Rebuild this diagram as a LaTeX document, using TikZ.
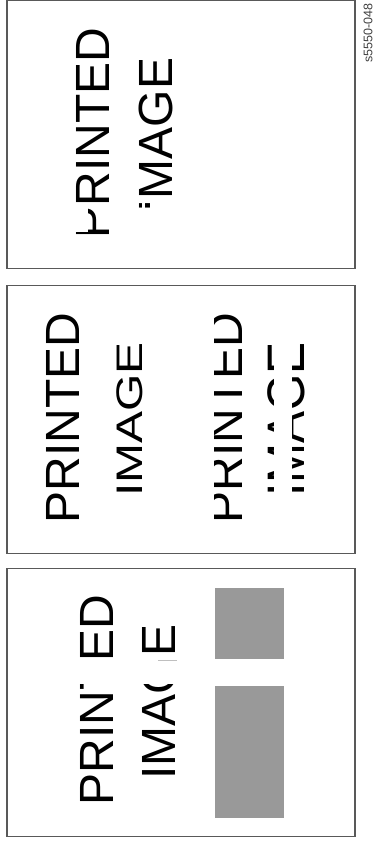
\documentclass[tikz,border=0pt]{standalone}
\usepackage{fontspec}
\setmainfont{Liberation Sans}
\begin{document}
\begin{tikzpicture}[x=1pt, y=-1pt,
  sheet/.style={draw=black!65, line width=1.1pt, minimum width=348pt, minimum height=268pt, inner sep=0pt},
  word/.style={rotate=90, inner sep=0pt, font=\fontsize{48}{48}\selectfont},
  gap/.style={fill=white, draw=none},
  toner/.style={fill=black!40, draw=none}]
\useasboundingbox (0,0) rectangle (375,846);
% first sheet
\node[sheet] (s1) at (181,134.5) {};
\node[word] (s1a) at (92.5,133) {PRINTED};
\node[word] (s1b) at (155.5,135) {IMAGE};
\fill[gap] (73,203) rectangle (88,232);
\fill[gap] (150,196) rectangle (176,215);
\fill[gap] (142,196) rectangle (145,215);
% second sheet
\node[sheet] (s2) at (181,419.5) {};
\node[word] (s2a) at (62.5,418) {PRINTED};
\node[word, yscale=.77] (s2b) at (130,419.5) {IMAGE};
\node[word] (s2c) at (225.5,418) {PRINTED};
\node[word, yscale=1.1] (s2d) at (286,419.5) {IMAGE};
\fill[gap] (205,300) rectangle (214,540);
\fill[gap] (274,330) rectangle (292,510);
% third sheet
\node[sheet] (s3) at (181,702.5) {};
\node[word] (s3a) at (96.5,700) {PRINTED};
\node[word] (s3b) at (158.5,702) {IMAGE};
\fill[gap] (76,660) rectangle (117,684);
\fill[gap] (138,659) rectangle (179,684);
\draw[black!25, line width=1pt] (158,660) -- (177,660);
\node[toner, minimum width=69pt, minimum height=71pt, inner sep=0pt] (b1) at (249.5,623.5) {};
\node[toner, minimum width=69pt, minimum height=132pt, inner sep=0pt] (b2) at (249.5,752) {};
% tag
\node[rotate=90, inner sep=0pt, text=black!75, font=\fontsize{12.5}{12.5}\selectfont] (tag) at (368,33) {s5550-048};
\end{tikzpicture}
\end{document}
